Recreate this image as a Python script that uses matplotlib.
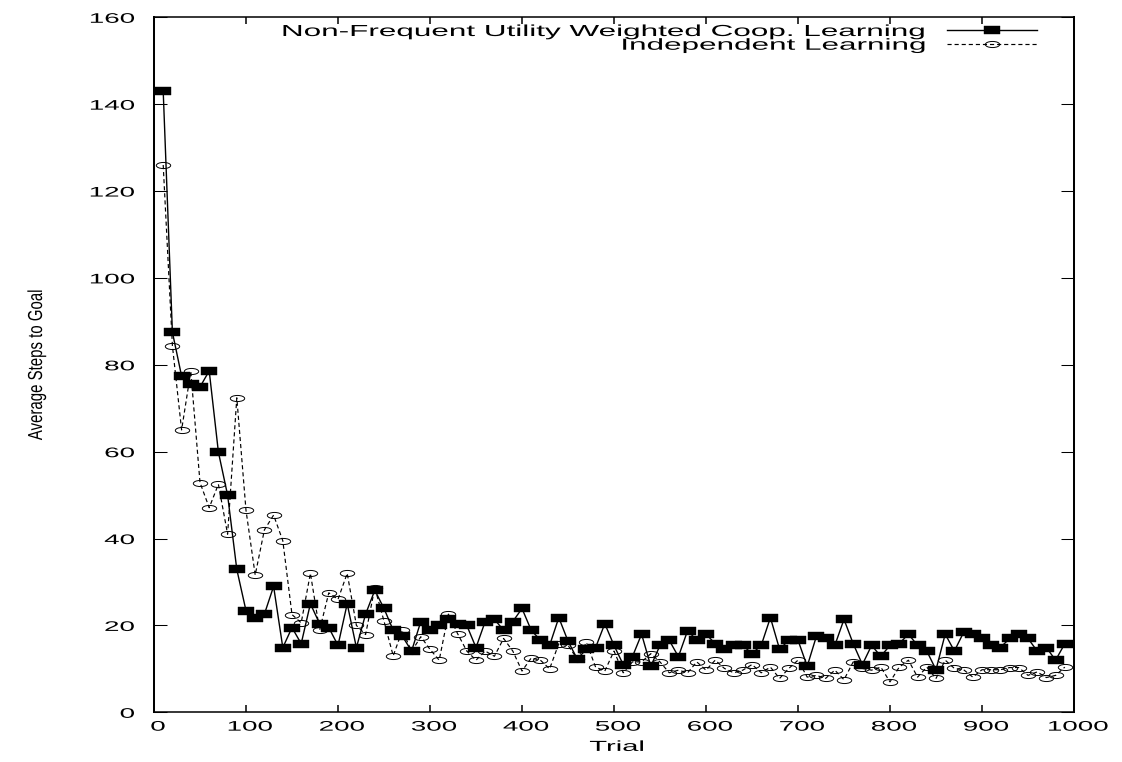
"""
Average steps to goal per trial: cooperative vs independent learning
"""

import matplotlib
matplotlib.use('Agg')
from matplotlib import pyplot as plt
from matplotlib import patheffects
from matplotlib.markers import MarkerStyle
from matplotlib.transforms import Affine2D
import numpy as np

plt.rcParams['font.family'] = ['Liberation Sans', 'DejaVu Sans']

# data, one point every 10 trials
trials = list(range(10, 1000, 10))

coop_steps = [
    143.0, 87.5, 77.4, 75.6, 74.9, 78.6, 59.9, 50.0, 32.9, 23.4,
    21.8, 22.6, 29.0, 14.9, 19.5, 15.8, 25.0, 20.4, 19.5, 15.4,
    25.0, 14.9, 22.6, 28.1, 23.9, 18.9, 17.5, 14.1, 20.9, 18.9,
    20.1, 21.4, 20.4, 20.0, 14.9, 20.9, 21.4, 18.9, 20.9, 23.9,
    18.9, 16.6, 15.4, 21.8, 16.4, 12.3, 14.5, 14.9, 20.4, 15.4,
    11.0, 12.8, 18.0, 10.6, 15.4, 16.6, 12.8, 18.8, 16.6, 18.0,
    15.8, 14.5, 15.4, 15.4, 13.5, 15.4, 21.8, 14.5, 16.6, 16.6,
    10.6, 17.5, 17.1, 15.4, 21.4, 15.8, 11.0, 15.4, 12.9, 15.4,
    15.8, 18.0, 15.4, 14.1, 9.8, 18.0, 14.1, 18.4, 18.0, 17.0,
    15.4, 14.9, 17.0, 18.0, 17.0, 14.1, 14.9, 12.0, 15.8,
]

indep_steps = [
    126.0, 84.4, 65.0, 78.5, 52.9, 47.1, 52.5, 41.0, 72.4, 46.5,
    31.6, 42.0, 45.4, 39.5, 22.5, 20.6, 32.0, 18.9, 27.5, 26.0,
    32.0, 20.0, 17.9, 28.7, 21.0, 13.0, 18.9, 14.0, 17.4, 14.5,
    12.0, 22.6, 18.1, 14.1, 12.0, 14.1, 12.9, 17.0, 14.1, 9.5,
    12.5, 12.0, 10.0, 15.8, 15.4, 12.3, 16.1, 10.4, 9.5, 14.1,
    9.1, 11.6, 11.6, 13.5, 11.6, 9.1, 9.7, 9.1, 11.6, 9.7,
    12.0, 10.1, 9.1, 9.7, 11.0, 9.1, 10.4, 7.8, 10.1, 12.0,
    8.1, 8.5, 7.8, 9.7, 7.5, 11.6, 10.1, 9.7, 10.4, 7.0,
    10.4, 12.0, 8.1, 10.4, 7.8, 12.0, 10.1, 9.8, 8.1, 9.8,
    9.8, 9.8, 10.3, 10.3, 8.5, 9.3, 8.0, 8.5, 10.4,
]

coop_label = 'Non-Frequent Utility Weighted Coop. Learning'
indep_label = 'Independent Learning'

x_ticks = list(range(0, 1001, 100))
y_ticks = list(range(0, 161, 20))


# the source eps was scaled unevenly, so glyphs come out wide.
# stretch the text outlines at draw time, text itself stays text
class Stretch(patheffects.AbstractPathEffect):
    def __init__(self, sx=1.0, sy=1.0, anchor='center', dx=0.0):
        super().__init__()
        self.sx = sx
        self.sy = sy
        self.anchor = anchor
        self.dx = dx

    def draw_path(self, renderer, gc, tpath, affine, rgbFace=None):
        ext = tpath.get_extents()
        if self.anchor == 'right':
            x0 = ext.x1
        elif self.anchor == 'left':
            x0 = ext.x0
        else:
            x0 = (ext.x0 + ext.x1) / 2
        t = (Affine2D().translate(-x0, 0).scale(self.sx, self.sy).translate(x0, 0)
             + affine + Affine2D().translate(self.dx, 0))
        renderer.draw_path(gc, tpath, t, rgbFace)


fig = plt.figure(figsize=(11.22, 7.62), dpi=100)
ax = fig.add_axes([154 / 1122, 49.7 / 762, 920 / 1122, 695 / 762])

square = MarkerStyle('s', transform=Affine2D().scale(2.1, 1))
circle = MarkerStyle('o', fillstyle='none', transform=Affine2D().scale(2.35, 1))

ax.plot(trials, indep_steps, color='black', lw=0.85, dashes=(3.5, 2.5),
        marker=circle, markersize=4.4, markeredgewidth=0.7,
        markeredgecolor='black', label=indep_label)
ax.plot(trials, coop_steps, color='black', lw=1.0,
        marker=square, markersize=5.2, markeredgewidth=0.3,
        markerfacecolor='black', markeredgecolor='black', label=coop_label)

ax.set_xlim(0, 1000)
ax.set_ylim(0, 160)
ax.set_xticks(x_ticks)
ax.set_yticks(y_ticks)

ax.tick_params(axis='x', direction='in', length=5, width=1.1, pad=5.3,
               labelsize=10, top=True)
ax.tick_params(axis='y', direction='in', length=9.4, width=0.75, pad=14,
               labelsize=10, right=True)
for lab in ax.get_xticklabels():
    lab.set_path_effects([Stretch(sx=2.0, anchor='center', dx=4)])
for lab in ax.get_yticklabels():
    lab.set_path_effects([Stretch(sx=2.0, anchor='right')])

for side in ['left', 'right']:
    ax.spines[side].set_linewidth(1.45)
for side in ['top', 'bottom']:
    ax.spines[side].set_linewidth(1.1)

ax.set_xlabel('Trial', fontsize=10.5, labelpad=4.5)
ax.xaxis.label.set_path_effects([Stretch(sx=2.0, anchor='center', dx=3)])

ax.set_ylabel('Average Steps to Goal', fontsize=10.8)
ax.yaxis.label.set_va('baseline')
ax.yaxis.set_label_coords((42 - 154) / 920, 0.5)
ax.yaxis.label.set_path_effects([Stretch(sy=1.35)])

handles, labels = ax.get_legend_handles_labels()
leg = ax.legend(handles[::-1], labels[::-1], loc='upper right',
                bbox_to_anchor=((1036.7 - 154) / 920, (712.3 - 24) / 695),
                markerfirst=False, frameon=False, fontsize=11.5,
                handlelength=5.6, handletextpad=1.35, labelspacing=-0.08,
                borderpad=0, borderaxespad=0)
for t in leg.get_texts():
    t.set_path_effects([Stretch(sx=1.97, anchor='right')])

fig.savefig('out.png', dpi=100, facecolor='white')
